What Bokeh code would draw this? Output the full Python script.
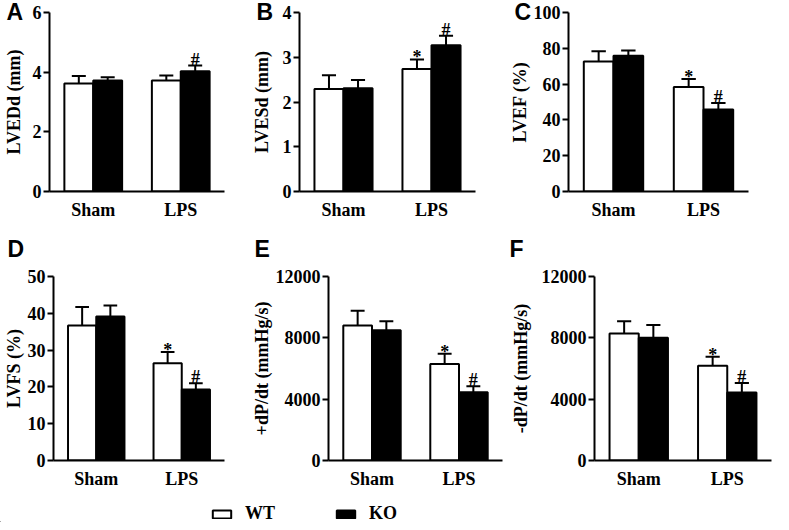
from bokeh.plotting import figure
from bokeh.models import (ColumnDataSource, FactorRange, Range1d, FixedTicker, Title,
                          Legend, LegendItem)
from bokeh.transform import dodge
from bokeh.layouts import column, row
from bokeh.embed import file_html
from bokeh.resources import INLINE

# ---------------- data ----------------
groups = ["Sham", "LPS"]
series = ["WT", "KO"]

lvedd_wt = [3.62, 3.72]
lvedd_wt_sem = [0.25, 0.17]
lvedd_ko = [3.72, 4.03]
lvedd_ko_sem = [0.11, 0.19]
lvedd_sig_wt = ["", ""]
lvedd_sig_ko = ["", "#"]
lvedd_ticks = [0, 2, 4, 6]

lvesd_wt = [2.29, 2.74]
lvesd_wt_sem = [0.31, 0.21]
lvesd_ko = [2.31, 3.27]
lvesd_ko_sem = [0.18, 0.21]
lvesd_sig_wt = ["", "*"]
lvesd_sig_ko = ["", "#"]
lvesd_ticks = [0, 1, 2, 3, 4]

lvef_wt = [72.6, 58.4]
lvef_wt_sem = [5.8, 4.5]
lvef_ko = [75.8, 45.8]
lvef_ko_sem = [3.0, 3.6]
lvef_sig_wt = ["", "*"]
lvef_sig_ko = ["", "#"]
lvef_ticks = [0, 20, 40, 60, 80, 100]

lvfs_wt = [36.7, 26.4]
lvfs_wt_sem = [5.0, 3.1]
lvfs_ko = [39.1, 19.3]
lvfs_ko_sem = [3.0, 1.7]
lvfs_sig_wt = ["", "*"]
lvfs_sig_ko = ["", "#"]
lvfs_ticks = [0, 10, 20, 30, 40, 50]

dpdt_pos_wt = [8800, 6290]
dpdt_pos_wt_sem = [970, 670]
dpdt_pos_ko = [8500, 4450]
dpdt_pos_ko_sem = [580, 390]
dpdt_pos_sig_wt = ["", "*"]
dpdt_pos_sig_ko = ["", "#"]
dpdt_pos_ticks = [0, 4000, 8000, 12000]

dpdt_neg_wt = [8280, 6180]
dpdt_neg_wt_sem = [800, 590]
dpdt_neg_ko = [8000, 4430]
dpdt_neg_ko_sem = [830, 630]
dpdt_neg_sig_wt = ["", "*"]
dpdt_neg_sig_ko = ["", "#"]
dpdt_neg_ticks = [0, 4000, 8000, 12000]

SERIF = "Liberation Serif"
SANS = "Liberation Sans"
FS = "18px"
OFF = 0.165
BW = 0.33
CAP = 0.08


def make_panel(letter, ylabel, wt, wt_sem, ko, ko_sem, sig_wt, sig_ko, ticks,
               width, height, bl, br, bt, bb, lab_standoff, letter_dx, valign, letter_standoff):
    ymax = ticks[-1]
    ttl = Title(text=letter, align="left", vertical_align=valign, offset=letter_dx,
                standoff=letter_standoff, text_font=SANS, text_font_style="bold",
                text_font_size="23px", text_color="black")
    p = figure(x_range=FactorRange(factors=groups, range_padding=0),
               y_range=Range1d(0, ymax), width=width, height=height, title=ttl,
               min_border_left=bl, min_border_right=br, min_border_top=bt, min_border_bottom=bb,
               output_backend="svg", toolbar_location=None, outline_line_color=None)
    p.xgrid.visible = False
    p.ygrid.visible = False

    for vals, sems, sig, off, fill, yoff in [(wt, wt_sem, sig_wt, -OFF, "white", -2),
                                             (ko, ko_sem, sig_ko, OFF, "black", -6)]:
        src = ColumnDataSource(dict(group=groups, mean=vals,
                                    upper=[m + s for m, s in zip(vals, sems)], sig=sig))
        p.vbar(x=dodge("group", off, range=p.x_range), top="mean", bottom=0, width=BW,
               source=src, fill_color=fill, line_color="black", line_width=2)
        p.segment(x0=dodge("group", off, range=p.x_range), y0="mean",
                  x1=dodge("group", off, range=p.x_range), y1="upper",
                  source=src, line_color="black", line_width=2)
        p.segment(x0=dodge("group", off - CAP, range=p.x_range), y0="upper",
                  x1=dodge("group", off + CAP, range=p.x_range), y1="upper",
                  source=src, line_color="black", line_width=2)
        p.text(x=dodge("group", off, range=p.x_range), y="upper", text="sig", source=src,
               text_font={"value": SERIF}, text_font_style="bold", text_font_size="18px",
               text_align="center", text_baseline="alphabetic", y_offset=yoff,
               text_color="black")

    yax = p.yaxis[0]
    yax.ticker = FixedTicker(ticks=ticks)
    xax = p.xaxis[0]
    for ax in (xax, yax):
        ax.axis_line_width = 2
        ax.axis_line_color = "black"
        ax.major_tick_line_width = 2
        ax.major_tick_line_color = "black"
        ax.minor_tick_line_color = None
        ax.major_label_text_font = SERIF
        ax.major_label_text_font_style = "bold"
        ax.major_label_text_font_size = FS
        ax.major_label_text_color = "black"
    yax.major_tick_out = 6
    yax.major_tick_in = 0
    yax.major_label_standoff = 2
    yax.axis_label = ylabel
    yax.axis_label_standoff = lab_standoff
    yax.axis_label_text_font = SERIF
    yax.axis_label_text_font_style = "bold"
    yax.axis_label_text_font_size = FS
    yax.axis_label_text_color = "black"
    xax.major_tick_line_color = None
    xax.major_tick_out = 0
    xax.major_tick_in = 0
    xax.major_label_standoff = 8
    return p


# row 1: height 222, border top 12, frame 180
fA = make_panel("A", "LVEDd (mm)", lvedd_wt, lvedd_wt_sem, lvedd_ko, lvedd_ko_sem,
                lvedd_sig_wt, lvedd_sig_ko, lvedd_ticks, 248, 222, 44, 24, 12, 30, 6, -43, "bottom", -25)
fB = make_panel("B", "LVESd (mm)", lvesd_wt, lvesd_wt_sem, lvesd_ko, lvesd_ko_sem,
                lvesd_sig_wt, lvesd_sig_ko, lvesd_ticks, 258, 222, 46, 31, 12, 30, 8, -43, "bottom", -25)
fC = make_panel("C", "LVEF (%)", lvef_wt, lvef_wt_sem, lvef_ko, lvef_ko_sem,
                lvef_sig_wt, lvef_sig_ko, lvef_ticks, 267, 222, 57, 25, 12, 30, 1, -54, "bottom", -25)
# row 2: height 269, border top 54, frame 185
fD = make_panel("D", "LVFS (%)", lvfs_wt, lvfs_wt_sem, lvfs_ko, lvfs_ko_sem,
                lvfs_sig_wt, lvfs_sig_ko, lvfs_ticks, 248, 269, 47, 24, 54, 30, 1, -46, "top", 26)
fE = make_panel("E", "+dP/dt (mmHg/s)", dpdt_pos_wt, dpdt_pos_wt_sem, dpdt_pos_ko, dpdt_pos_ko_sem,
                dpdt_pos_sig_wt, dpdt_pos_sig_ko, dpdt_pos_ticks, 256, 269, 76, 2, 54, 30, 1, -74, "top", 26)
fF = make_panel("F", "-dP/dt (mmHg/s)", dpdt_neg_wt, dpdt_neg_wt_sem, dpdt_neg_ko, dpdt_neg_ko_sem,
                dpdt_neg_sig_wt, dpdt_neg_sig_ko, dpdt_neg_ticks, 269, 269, 90, 2, 54, 30, 8, -85, "top", 26)

# ---------------- legend ----------------
fL = figure(width=773, height=31, x_range=Range1d(0, 1), y_range=Range1d(0, 1),
            output_backend="svg", toolbar_location=None, outline_line_color=None,
            min_border=0, x_axis_location=None, y_axis_location=None)
fL.xgrid.visible = False
fL.ygrid.visible = False
r_wt = fL.vbar(x=[-5], top=[-5], bottom=[-6], width=0.1, fill_color="white",
               line_color="black", line_width=2)
r_ko = fL.vbar(x=[-5], top=[-5], bottom=[-6], width=0.1, fill_color="black",
               line_color="black", line_width=2)
leg = Legend(items=[LegendItem(label=s, renderers=[r]) for s, r in zip(series, [r_wt, r_ko])],
             orientation="horizontal", location=(210, -2), glyph_width=23, glyph_height=10,
             label_standoff=12, spacing=59, padding=0, margin=0, border_line_color=None,
             background_fill_alpha=0, label_text_font=SERIF, label_text_font_style="bold",
             label_text_font_size=FS, label_text_color="black")
fL.add_layout(leg)

layout = column(row(fA, fB, fC), row(fD, fE, fF), fL)

open("out.html", "w").write(file_html(layout, INLINE))
